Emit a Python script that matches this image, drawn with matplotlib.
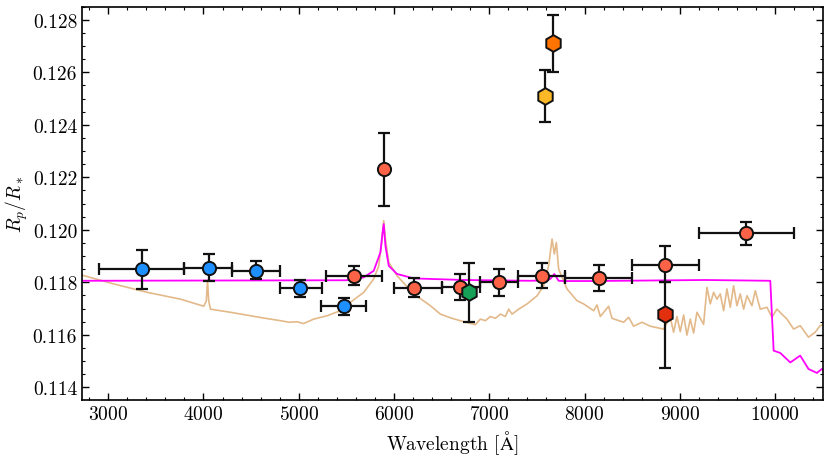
import numpy as np
import matplotlib
matplotlib.use("Agg")
import matplotlib.pyplot as plt
from matplotlib.ticker import MultipleLocator, FormatStrFormatter

plt.rcParams["font.family"] = "serif"
plt.rcParams["font.serif"] = ["cmr10", "DejaVu Serif"]
plt.rcParams["mathtext.fontset"] = "cm"
plt.rcParams["axes.formatter.use_mathtext"] = True

# Broadband points (blue = blue arm, red = red arm)
blue_wl = [3357, 4056, 4556, 5018, 5472]
blue_xlo = [457, 256, 256, 218, 237]
blue_xhi = [443, 244, 244, 227, 235]
blue_rp = [0.11851, 0.11855, 0.11844, 0.11777, 0.11709]
blue_up = [0.00073, 0.00052, 0.00036, 0.00033, 0.00032]
blue_lo = [0.00075, 0.00051, 0.00033, 0.00033, 0.00033]

red_wl = [5584, 6207, 6697, 7099, 7554, 8148, 8848, 9698]
red_xlo = [294, 207, 197, 199, 254, 348, 348, 498]
red_xhi = [291, 293, 203, 201, 246, 352, 352, 502]
red_rp = [0.11825, 0.11777, 0.11781, 0.11801, 0.11825, 0.11816, 0.11868, 0.11988]
red_up = [0.00038, 0.00038, 0.00051, 0.00050, 0.00050, 0.00051, 0.00071, 0.00043]
red_lo = [0.00036, 0.00034, 0.00047, 0.00053, 0.00048, 0.00048, 0.00068, 0.00045]

# Na core, no bin width shown
na_wl = [5892]
na_rp = [0.12230]
na_err = [0.00140]

# Narrow-band hexagons
hex_wl = [6792, 7582, 7670, 8848]
hex_rp = [0.11762, 0.12511, 0.12710, 0.11679]
hex_up = [0.00110, 0.00097, 0.00109, 0.00121]
hex_lo = [0.00113, 0.00102, 0.00110, 0.00204]
hex_colors = ["#17a058", "#fdb827", "#ff7300", "#e2300f"]

# Flat model (magenta)
flat_wl = [2700, 5500, 5682, 5787, 5857, 5880, 5892, 5910, 5945, 6032, 6207,
           6732, 7431, 7606, 7641, 7683, 7728, 7780, 8060, 9268, 9950, 9985,
           10055, 10160, 10264, 10351, 10439, 10491, 10520]
flat_rp = [0.11806, 0.11808, 0.11819, 0.11844, 0.11914, 0.11990, 0.12022,
           0.11939, 0.11863, 0.11832, 0.11815, 0.11809, 0.11806, 0.11808,
           0.11813, 0.11832, 0.11806, 0.11805, 0.11805, 0.11809, 0.11806,
           0.11540, 0.11531, 0.11495, 0.11521, 0.11470, 0.11455, 0.11470,
           0.11465]

# Clear atmosphere model (tan)
clear_wl = [2700, 3059, 3409, 3759, 4003, 4030, 4042, 4055, 4073, 4283, 4633,
            4808, 4900, 4983, 5050, 5157, 5298, 5437, 5542, 5682, 5787, 5840,
            5875, 5892, 5910, 5945, 6032, 6207, 6382, 6487, 6600, 6732, 6854,
            6906, 6959, 7011, 7064, 7117, 7169, 7204, 7239, 7309, 7397, 7502,
            7571, 7623, 7659, 7683, 7704, 7728, 7816, 7921, 7990, 8096, 8131,
            8166, 8253, 8288, 8410, 8463, 8515, 8603, 8690, 8830, 8900, 8935,
            8970, 9005, 9040, 9075, 9110, 9145, 9180, 9250, 9285, 9320, 9355,
            9390, 9425, 9460, 9495, 9530, 9565, 9600, 9635, 9670, 9705, 9757,
            9792, 9845, 9915, 9967, 10020, 10072, 10125, 10195, 10264, 10351,
            10421, 10473, 10520]
clear_rp = [0.11830, 0.11794, 0.11762, 0.11736, 0.11709, 0.11730, 0.11808,
            0.11730, 0.11698, 0.11686, 0.11664, 0.11654, 0.11648, 0.11650,
            0.11643, 0.11660, 0.11673, 0.11692, 0.11724, 0.11762, 0.11813,
            0.11863, 0.11965, 0.12035, 0.11965, 0.11876, 0.11825, 0.11756,
            0.11711, 0.11679, 0.11664, 0.11650, 0.11639, 0.11660, 0.11654,
            0.11670, 0.11663, 0.11679, 0.11670, 0.11698, 0.11679, 0.11698,
            0.11718, 0.11749, 0.11787, 0.11863, 0.11965, 0.11908, 0.11952,
            0.11851, 0.11775, 0.11730, 0.11718, 0.11692, 0.11714, 0.11670,
            0.11709, 0.11663, 0.11648, 0.11667, 0.11633, 0.11648, 0.11633,
            0.11622, 0.11667, 0.11610, 0.11670, 0.11612, 0.11676, 0.11599,
            0.11660, 0.11607, 0.11686, 0.11640, 0.11781, 0.11718, 0.11762,
            0.11736, 0.11756, 0.11692, 0.11775, 0.11705, 0.11787, 0.11711,
            0.11756, 0.11698, 0.11749, 0.11711, 0.11768, 0.11698, 0.11705,
            0.11667, 0.11698, 0.11679, 0.11660, 0.11622, 0.11635, 0.11591,
            0.11610, 0.11635, 0.11640]

fig = plt.figure(figsize=(8.31, 4.60), dpi=100)
ax = fig.add_axes([0.0987, 0.1283, 0.8913, 0.855])

ax.plot(clear_wl, clear_rp, color="#e3b98a", lw=1.2, zorder=1)
ax.plot(flat_wl, flat_rp, color="#ff00ff", lw=1.3, zorder=2)

eb = dict(fmt="none", ecolor="#111111", elinewidth=1.6, capsize=4.5, capthick=1.6)

ax.errorbar(blue_wl, blue_rp, xerr=[blue_xlo, blue_xhi], yerr=[blue_lo, blue_up],
            zorder=3, **eb)
ax.plot(blue_wl, blue_rp, "o", ms=9.5, mfc="#1e8fff", mec="#111111", mew=1.4, zorder=4)

ax.errorbar(red_wl, red_rp, xerr=[red_xlo, red_xhi], yerr=[red_lo, red_up],
            zorder=3, **eb)
ax.errorbar(na_wl, na_rp, yerr=na_err, zorder=3, **eb)
ax.plot(red_wl + na_wl, red_rp + na_rp, "o", ms=9.5, mfc="#ff6347", mec="#111111",
        mew=1.4, zorder=4)

for wl, rp, lo, up, c in zip(hex_wl, hex_rp, hex_lo, hex_up, hex_colors):
    ax.errorbar([wl], [rp], yerr=[[lo], [up]], zorder=5, **eb)
    ax.plot([wl], [rp], "h", ms=12, mfc=c, mec="#111111", mew=1.4, zorder=6)

ax.set_xlim(2725, 10500)
ax.set_ylim(0.11352, 0.1285)
ax.xaxis.set_major_locator(MultipleLocator(1000))
ax.xaxis.set_minor_locator(MultipleLocator(200))
ax.yaxis.set_major_locator(MultipleLocator(0.002))
ax.yaxis.set_minor_locator(MultipleLocator(0.0005))
ax.yaxis.set_major_formatter(FormatStrFormatter("%.3f"))
ax.tick_params(which="both", direction="in", top=True, right=True, labelsize=14)
ax.tick_params(which="major", length=5, width=1)
ax.tick_params(which="minor", length=2.5, width=0.8)
for s in ax.spines.values():
    s.set_linewidth(1.2)

ax.set_xlabel(r"Wavelength [$\mathrm{\AA}$]", fontsize=14, labelpad=4)
ax.set_ylabel(r"$R_p/R_*$", fontsize=14, labelpad=2)

fig.savefig("out.png", dpi=100)
